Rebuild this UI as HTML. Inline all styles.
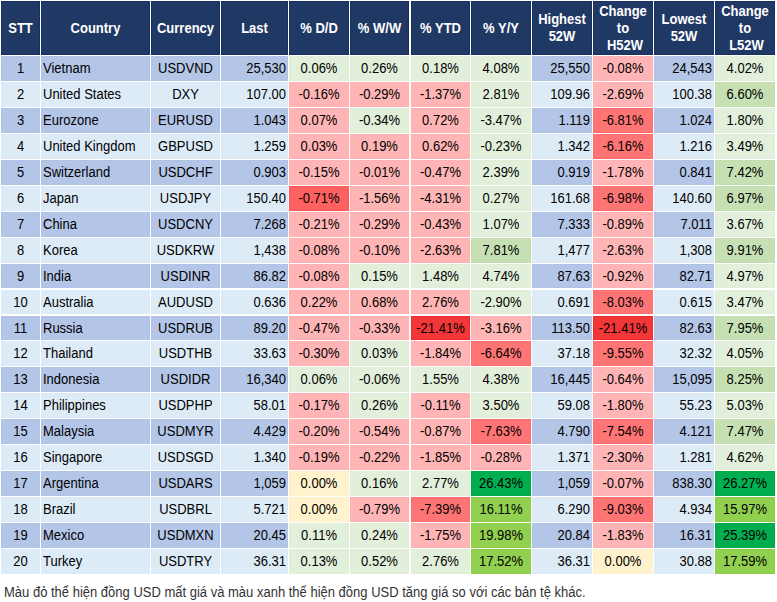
<!DOCTYPE html>
<html><head><meta charset="utf-8"><title>USD</title>
<style>
html,body{margin:0;padding:0;background:#fff;}
body{width:777px;height:602px;position:relative;overflow:hidden;
 font-family:"Liberation Sans",Arial,sans-serif;font-size:13px;color:#000;}
.c{position:absolute;box-sizing:border-box;white-space:nowrap;line-height:25px;}
.c span{display:inline-block;transform:scaleY(1.075);transform-origin:50% 17px;}
.h{position:absolute;box-sizing:border-box;background:#203864;color:#fff;font-weight:bold;
 display:flex;flex-direction:column;align-items:stretch;justify-content:center;text-align:center;line-height:17px;}
.hl{height:17px;white-space:nowrap;}
.hl span{display:inline-block;position:relative;transform:scaleY(1.075);transform-origin:50% 13px;}
.l{text-align:left;padding-left:2px;}
.m{text-align:center;}
.r{text-align:right;padding-right:2px;}
.note{position:absolute;left:4px;top:584px;font-size:13px;color:#333;white-space:nowrap;line-height:17px;}
.note span{display:inline-block;transform:scaleY(1.075);transform-origin:0 13px;}
</style></head><body>

<div class="h" style="left:1px;top:1px;width:39px;height:54px;box-shadow:inset 0 0 0 1px #17305E"><div class="hl"><span>STT</span></div></div>
<div class="h" style="left:41px;top:1px;width:109px;height:54px;box-shadow:inset 0 0 0 1px #17305E"><div class="hl"><span>Country</span></div></div>
<div class="h" style="left:151px;top:1px;width:69px;height:54px;box-shadow:inset 0 0 0 1px #17305E"><div class="hl"><span>Currency</span></div></div>
<div class="h" style="left:221px;top:1px;width:67px;height:54px;box-shadow:inset 0 0 0 1px #17305E"><div class="hl"><span>Last</span></div></div>
<div class="h" style="left:289px;top:1px;width:60px;height:54px;box-shadow:inset 0 0 0 1px #17305E"><div class="hl"><span>% D/D</span></div></div>
<div class="h" style="left:350px;top:1px;width:59px;height:54px;box-shadow:inset 0 0 0 1px #17305E"><div class="hl"><span>% W/W</span></div></div>
<div class="h" style="left:411px;top:1px;width:59px;height:54px;box-shadow:inset 0 0 0 1px #17305E"><div class="hl"><span>% YTD</span></div></div>
<div class="h" style="left:471px;top:1px;width:60px;height:54px;box-shadow:inset 0 0 0 1px #17305E"><div class="hl"><span>% Y/Y</span></div></div>
<div class="h" style="left:532px;top:1px;width:60px;height:54px;box-shadow:inset 0 0 0 1px #17305E"><div class="hl"><span>Highest</span></div><div class="hl"><span>52W</span></div></div>
<div class="h" style="left:593px;top:1px;width:60px;height:54px;box-shadow:inset 0 0 0 1px #17305E"><div class="hl"><span>Change</span></div><div class="hl"><span>to</span></div><div class="hl"><span style="left:2.0px">H52W</span></div></div>
<div class="h" style="left:654px;top:1px;width:60px;height:54px;box-shadow:inset 0 0 0 1px #17305E"><div class="hl"><span>Lowest</span></div><div class="hl"><span>52W</span></div></div>
<div class="h" style="left:715px;top:1px;width:60px;height:54px;box-shadow:inset 0 0 0 1px #17305E"><div class="hl"><span>Change</span></div><div class="hl"><span>to</span></div><div class="hl"><span style="left:1.5px">L52W</span></div></div>
<div class="c m" style="left:1px;top:56px;width:39px;height:25px;background:#B4C6E7;box-shadow:inset 0 0 0 1px #AFC2E5"><span>1</span></div>
<div class="c l" style="left:41px;top:56px;width:109px;height:25px;background:#B4C6E7;box-shadow:inset 0 0 0 1px #AFC2E5"><span>Vietnam</span></div>
<div class="c m" style="left:151px;top:56px;width:69px;height:25px;background:#B4C6E7;box-shadow:inset 0 0 0 1px #AFC2E5"><span>USDVND</span></div>
<div class="c r" style="left:221px;top:56px;width:67px;height:25px;background:#B4C6E7;box-shadow:inset 0 0 0 1px #AFC2E5"><span>25,530</span></div>
<div class="c m" style="left:289px;top:56px;width:60px;height:25px;background:#E2EFDA;box-shadow:inset 0 0 0 1px #E0EED7"><span>0.06%</span></div>
<div class="c m" style="left:350px;top:56px;width:59px;height:25px;background:#E2EFDA;box-shadow:inset 0 0 0 1px #E0EED7"><span>0.26%</span></div>
<div class="c m" style="left:411px;top:56px;width:59px;height:25px;background:#E2EFDA;box-shadow:inset 0 0 0 1px #E0EED7"><span>0.18%</span></div>
<div class="c m" style="left:471px;top:56px;width:60px;height:25px;background:#E2EFDA;box-shadow:inset 0 0 0 1px #E0EED7"><span>4.08%</span></div>
<div class="c r" style="left:532px;top:56px;width:60px;height:25px;background:#B4C6E7;box-shadow:inset 0 0 0 1px #AFC2E5"><span>25,550</span></div>
<div class="c m" style="left:593px;top:56px;width:60px;height:25px;background:#FFB5B5;box-shadow:inset 0 0 0 1px #FFB0B0"><span>-0.08%</span></div>
<div class="c r" style="left:654px;top:56px;width:60px;height:25px;background:#B4C6E7;box-shadow:inset 0 0 0 1px #AFC2E5"><span>24,543</span></div>
<div class="c m" style="left:715px;top:56px;width:60px;height:25px;background:#E2EFDA;box-shadow:inset 0 0 0 1px #E0EED7"><span>4.02%</span></div>
<div class="c m" style="left:1px;top:82px;width:39px;height:25px;background:#DDEBF7;box-shadow:inset 0 0 0 1px #DBEAF6"><span>2</span></div>
<div class="c l" style="left:41px;top:82px;width:109px;height:25px;background:#DDEBF7;box-shadow:inset 0 0 0 1px #DBEAF6"><span>United States</span></div>
<div class="c m" style="left:151px;top:82px;width:69px;height:25px;background:#DDEBF7;box-shadow:inset 0 0 0 1px #DBEAF6"><span>DXY</span></div>
<div class="c r" style="left:221px;top:82px;width:67px;height:25px;background:#DDEBF7;box-shadow:inset 0 0 0 1px #DBEAF6"><span>107.00</span></div>
<div class="c m" style="left:289px;top:82px;width:60px;height:25px;background:#FFB5B5;box-shadow:inset 0 0 0 1px #FFB0B0"><span>-0.16%</span></div>
<div class="c m" style="left:350px;top:82px;width:59px;height:25px;background:#FFB5B5;box-shadow:inset 0 0 0 1px #FFB0B0"><span>-0.29%</span></div>
<div class="c m" style="left:411px;top:82px;width:59px;height:25px;background:#FFB5B5;box-shadow:inset 0 0 0 1px #FFB0B0"><span>-1.37%</span></div>
<div class="c m" style="left:471px;top:82px;width:60px;height:25px;background:#E2EFDA;box-shadow:inset 0 0 0 1px #E0EED7"><span>2.81%</span></div>
<div class="c r" style="left:532px;top:82px;width:60px;height:25px;background:#DDEBF7;box-shadow:inset 0 0 0 1px #DBEAF6"><span>109.96</span></div>
<div class="c m" style="left:593px;top:82px;width:60px;height:25px;background:#FFB5B5;box-shadow:inset 0 0 0 1px #FFB0B0"><span>-2.69%</span></div>
<div class="c r" style="left:654px;top:82px;width:60px;height:25px;background:#DDEBF7;box-shadow:inset 0 0 0 1px #DBEAF6"><span>100.38</span></div>
<div class="c m" style="left:715px;top:82px;width:60px;height:25px;background:#C6E0B4;box-shadow:inset 0 0 0 1px #C2DEAF"><span>6.60%</span></div>
<div class="c m" style="left:1px;top:108px;width:39px;height:25px;background:#B4C6E7;box-shadow:inset 0 0 0 1px #AFC2E5"><span>3</span></div>
<div class="c l" style="left:41px;top:108px;width:109px;height:25px;background:#B4C6E7;box-shadow:inset 0 0 0 1px #AFC2E5"><span>Eurozone</span></div>
<div class="c m" style="left:151px;top:108px;width:69px;height:25px;background:#B4C6E7;box-shadow:inset 0 0 0 1px #AFC2E5"><span>EURUSD</span></div>
<div class="c r" style="left:221px;top:108px;width:67px;height:25px;background:#B4C6E7;box-shadow:inset 0 0 0 1px #AFC2E5"><span>1.043</span></div>
<div class="c m" style="left:289px;top:108px;width:60px;height:25px;background:#FFB5B5;box-shadow:inset 0 0 0 1px #FFB0B0"><span>0.07%</span></div>
<div class="c m" style="left:350px;top:108px;width:59px;height:25px;background:#E2EFDA;box-shadow:inset 0 0 0 1px #E0EED7"><span>-0.34%</span></div>
<div class="c m" style="left:411px;top:108px;width:59px;height:25px;background:#FFB5B5;box-shadow:inset 0 0 0 1px #FFB0B0"><span>0.72%</span></div>
<div class="c m" style="left:471px;top:108px;width:60px;height:25px;background:#E2EFDA;box-shadow:inset 0 0 0 1px #E0EED7"><span>-3.47%</span></div>
<div class="c r" style="left:532px;top:108px;width:60px;height:25px;background:#B4C6E7;box-shadow:inset 0 0 0 1px #AFC2E5"><span>1.119</span></div>
<div class="c m" style="left:593px;top:108px;width:60px;height:25px;background:#FF7575;box-shadow:inset 0 0 0 1px #FF6B6B"><span>-6.81%</span></div>
<div class="c r" style="left:654px;top:108px;width:60px;height:25px;background:#B4C6E7;box-shadow:inset 0 0 0 1px #AFC2E5"><span>1.024</span></div>
<div class="c m" style="left:715px;top:108px;width:60px;height:25px;background:#E2EFDA;box-shadow:inset 0 0 0 1px #E0EED7"><span>1.80%</span></div>
<div class="c m" style="left:1px;top:134px;width:39px;height:25px;background:#DDEBF7;box-shadow:inset 0 0 0 1px #DBEAF6"><span>4</span></div>
<div class="c l" style="left:41px;top:134px;width:109px;height:25px;background:#DDEBF7;box-shadow:inset 0 0 0 1px #DBEAF6"><span>United Kingdom</span></div>
<div class="c m" style="left:151px;top:134px;width:69px;height:25px;background:#DDEBF7;box-shadow:inset 0 0 0 1px #DBEAF6"><span>GBPUSD</span></div>
<div class="c r" style="left:221px;top:134px;width:67px;height:25px;background:#DDEBF7;box-shadow:inset 0 0 0 1px #DBEAF6"><span>1.259</span></div>
<div class="c m" style="left:289px;top:134px;width:60px;height:25px;background:#FFB5B5;box-shadow:inset 0 0 0 1px #FFB0B0"><span>0.03%</span></div>
<div class="c m" style="left:350px;top:134px;width:59px;height:25px;background:#FFB5B5;box-shadow:inset 0 0 0 1px #FFB0B0"><span>0.19%</span></div>
<div class="c m" style="left:411px;top:134px;width:59px;height:25px;background:#FFB5B5;box-shadow:inset 0 0 0 1px #FFB0B0"><span>0.62%</span></div>
<div class="c m" style="left:471px;top:134px;width:60px;height:25px;background:#E2EFDA;box-shadow:inset 0 0 0 1px #E0EED7"><span>-0.23%</span></div>
<div class="c r" style="left:532px;top:134px;width:60px;height:25px;background:#DDEBF7;box-shadow:inset 0 0 0 1px #DBEAF6"><span>1.342</span></div>
<div class="c m" style="left:593px;top:134px;width:60px;height:25px;background:#FF7575;box-shadow:inset 0 0 0 1px #FF6B6B"><span>-6.16%</span></div>
<div class="c r" style="left:654px;top:134px;width:60px;height:25px;background:#DDEBF7;box-shadow:inset 0 0 0 1px #DBEAF6"><span>1.216</span></div>
<div class="c m" style="left:715px;top:134px;width:60px;height:25px;background:#E2EFDA;box-shadow:inset 0 0 0 1px #E0EED7"><span>3.49%</span></div>
<div class="c m" style="left:1px;top:160px;width:39px;height:25px;background:#B4C6E7;box-shadow:inset 0 0 0 1px #AFC2E5"><span>5</span></div>
<div class="c l" style="left:41px;top:160px;width:109px;height:25px;background:#B4C6E7;box-shadow:inset 0 0 0 1px #AFC2E5"><span>Switzerland</span></div>
<div class="c m" style="left:151px;top:160px;width:69px;height:25px;background:#B4C6E7;box-shadow:inset 0 0 0 1px #AFC2E5"><span>USDCHF</span></div>
<div class="c r" style="left:221px;top:160px;width:67px;height:25px;background:#B4C6E7;box-shadow:inset 0 0 0 1px #AFC2E5"><span>0.903</span></div>
<div class="c m" style="left:289px;top:160px;width:60px;height:25px;background:#FFB5B5;box-shadow:inset 0 0 0 1px #FFB0B0"><span>-0.15%</span></div>
<div class="c m" style="left:350px;top:160px;width:59px;height:25px;background:#FFB5B5;box-shadow:inset 0 0 0 1px #FFB0B0"><span>-0.01%</span></div>
<div class="c m" style="left:411px;top:160px;width:59px;height:25px;background:#FFB5B5;box-shadow:inset 0 0 0 1px #FFB0B0"><span>-0.47%</span></div>
<div class="c m" style="left:471px;top:160px;width:60px;height:25px;background:#E2EFDA;box-shadow:inset 0 0 0 1px #E0EED7"><span>2.39%</span></div>
<div class="c r" style="left:532px;top:160px;width:60px;height:25px;background:#B4C6E7;box-shadow:inset 0 0 0 1px #AFC2E5"><span>0.919</span></div>
<div class="c m" style="left:593px;top:160px;width:60px;height:25px;background:#FFB5B5;box-shadow:inset 0 0 0 1px #FFB0B0"><span>-1.78%</span></div>
<div class="c r" style="left:654px;top:160px;width:60px;height:25px;background:#B4C6E7;box-shadow:inset 0 0 0 1px #AFC2E5"><span>0.841</span></div>
<div class="c m" style="left:715px;top:160px;width:60px;height:25px;background:#C6E0B4;box-shadow:inset 0 0 0 1px #C2DEAF"><span>7.42%</span></div>
<div class="c m" style="left:1px;top:186px;width:39px;height:25px;background:#DDEBF7;box-shadow:inset 0 0 0 1px #DBEAF6"><span>6</span></div>
<div class="c l" style="left:41px;top:186px;width:109px;height:25px;background:#DDEBF7;box-shadow:inset 0 0 0 1px #DBEAF6"><span>Japan</span></div>
<div class="c m" style="left:151px;top:186px;width:69px;height:25px;background:#DDEBF7;box-shadow:inset 0 0 0 1px #DBEAF6"><span>USDJPY</span></div>
<div class="c r" style="left:221px;top:186px;width:67px;height:25px;background:#DDEBF7;box-shadow:inset 0 0 0 1px #DBEAF6"><span>150.40</span></div>
<div class="c m" style="left:289px;top:186px;width:60px;height:25px;background:#FF6161;box-shadow:inset 0 0 0 1px #FF5656"><span>-0.71%</span></div>
<div class="c m" style="left:350px;top:186px;width:59px;height:25px;background:#FFB5B5;box-shadow:inset 0 0 0 1px #FFB0B0"><span>-1.56%</span></div>
<div class="c m" style="left:411px;top:186px;width:59px;height:25px;background:#FFB5B5;box-shadow:inset 0 0 0 1px #FFB0B0"><span>-4.31%</span></div>
<div class="c m" style="left:471px;top:186px;width:60px;height:25px;background:#E2EFDA;box-shadow:inset 0 0 0 1px #E0EED7"><span>0.27%</span></div>
<div class="c r" style="left:532px;top:186px;width:60px;height:25px;background:#DDEBF7;box-shadow:inset 0 0 0 1px #DBEAF6"><span>161.68</span></div>
<div class="c m" style="left:593px;top:186px;width:60px;height:25px;background:#FF7575;box-shadow:inset 0 0 0 1px #FF6B6B"><span>-6.98%</span></div>
<div class="c r" style="left:654px;top:186px;width:60px;height:25px;background:#DDEBF7;box-shadow:inset 0 0 0 1px #DBEAF6"><span>140.60</span></div>
<div class="c m" style="left:715px;top:186px;width:60px;height:25px;background:#C6E0B4;box-shadow:inset 0 0 0 1px #C2DEAF"><span>6.97%</span></div>
<div class="c m" style="left:1px;top:212px;width:39px;height:25px;background:#B4C6E7;box-shadow:inset 0 0 0 1px #AFC2E5"><span>7</span></div>
<div class="c l" style="left:41px;top:212px;width:109px;height:25px;background:#B4C6E7;box-shadow:inset 0 0 0 1px #AFC2E5"><span>China</span></div>
<div class="c m" style="left:151px;top:212px;width:69px;height:25px;background:#B4C6E7;box-shadow:inset 0 0 0 1px #AFC2E5"><span>USDCNY</span></div>
<div class="c r" style="left:221px;top:212px;width:67px;height:25px;background:#B4C6E7;box-shadow:inset 0 0 0 1px #AFC2E5"><span>7.268</span></div>
<div class="c m" style="left:289px;top:212px;width:60px;height:25px;background:#FFB5B5;box-shadow:inset 0 0 0 1px #FFB0B0"><span>-0.21%</span></div>
<div class="c m" style="left:350px;top:212px;width:59px;height:25px;background:#FFB5B5;box-shadow:inset 0 0 0 1px #FFB0B0"><span>-0.29%</span></div>
<div class="c m" style="left:411px;top:212px;width:59px;height:25px;background:#FFB5B5;box-shadow:inset 0 0 0 1px #FFB0B0"><span>-0.43%</span></div>
<div class="c m" style="left:471px;top:212px;width:60px;height:25px;background:#E2EFDA;box-shadow:inset 0 0 0 1px #E0EED7"><span>1.07%</span></div>
<div class="c r" style="left:532px;top:212px;width:60px;height:25px;background:#B4C6E7;box-shadow:inset 0 0 0 1px #AFC2E5"><span>7.333</span></div>
<div class="c m" style="left:593px;top:212px;width:60px;height:25px;background:#FFB5B5;box-shadow:inset 0 0 0 1px #FFB0B0"><span>-0.89%</span></div>
<div class="c r" style="left:654px;top:212px;width:60px;height:25px;background:#B4C6E7;box-shadow:inset 0 0 0 1px #AFC2E5"><span>7.011</span></div>
<div class="c m" style="left:715px;top:212px;width:60px;height:25px;background:#E2EFDA;box-shadow:inset 0 0 0 1px #E0EED7"><span>3.67%</span></div>
<div class="c m" style="left:1px;top:238px;width:39px;height:25px;background:#DDEBF7;box-shadow:inset 0 0 0 1px #DBEAF6"><span>8</span></div>
<div class="c l" style="left:41px;top:238px;width:109px;height:25px;background:#DDEBF7;box-shadow:inset 0 0 0 1px #DBEAF6"><span>Korea</span></div>
<div class="c m" style="left:151px;top:238px;width:69px;height:25px;background:#DDEBF7;box-shadow:inset 0 0 0 1px #DBEAF6"><span>USDKRW</span></div>
<div class="c r" style="left:221px;top:238px;width:67px;height:25px;background:#DDEBF7;box-shadow:inset 0 0 0 1px #DBEAF6"><span>1,438</span></div>
<div class="c m" style="left:289px;top:238px;width:60px;height:25px;background:#FFB5B5;box-shadow:inset 0 0 0 1px #FFB0B0"><span>-0.08%</span></div>
<div class="c m" style="left:350px;top:238px;width:59px;height:25px;background:#FFB5B5;box-shadow:inset 0 0 0 1px #FFB0B0"><span>-0.10%</span></div>
<div class="c m" style="left:411px;top:238px;width:59px;height:25px;background:#FFB5B5;box-shadow:inset 0 0 0 1px #FFB0B0"><span>-2.63%</span></div>
<div class="c m" style="left:471px;top:238px;width:60px;height:25px;background:#C6E0B4;box-shadow:inset 0 0 0 1px #C2DEAF"><span>7.81%</span></div>
<div class="c r" style="left:532px;top:238px;width:60px;height:25px;background:#DDEBF7;box-shadow:inset 0 0 0 1px #DBEAF6"><span>1,477</span></div>
<div class="c m" style="left:593px;top:238px;width:60px;height:25px;background:#FFB5B5;box-shadow:inset 0 0 0 1px #FFB0B0"><span>-2.63%</span></div>
<div class="c r" style="left:654px;top:238px;width:60px;height:25px;background:#DDEBF7;box-shadow:inset 0 0 0 1px #DBEAF6"><span>1,308</span></div>
<div class="c m" style="left:715px;top:238px;width:60px;height:25px;background:#C6E0B4;box-shadow:inset 0 0 0 1px #C2DEAF"><span>9.91%</span></div>
<div class="c m" style="left:1px;top:264px;width:39px;height:24px;background:#B4C6E7;box-shadow:inset 0 0 0 1px #AFC2E5"><span>9</span></div>
<div class="c l" style="left:41px;top:264px;width:109px;height:24px;background:#B4C6E7;box-shadow:inset 0 0 0 1px #AFC2E5"><span>India</span></div>
<div class="c m" style="left:151px;top:264px;width:69px;height:24px;background:#B4C6E7;box-shadow:inset 0 0 0 1px #AFC2E5"><span>USDINR</span></div>
<div class="c r" style="left:221px;top:264px;width:67px;height:24px;background:#B4C6E7;box-shadow:inset 0 0 0 1px #AFC2E5"><span>86.82</span></div>
<div class="c m" style="left:289px;top:264px;width:60px;height:24px;background:#FFB5B5;box-shadow:inset 0 0 0 1px #FFB0B0"><span>-0.08%</span></div>
<div class="c m" style="left:350px;top:264px;width:59px;height:24px;background:#E2EFDA;box-shadow:inset 0 0 0 1px #E0EED7"><span>0.15%</span></div>
<div class="c m" style="left:411px;top:264px;width:59px;height:24px;background:#E2EFDA;box-shadow:inset 0 0 0 1px #E0EED7"><span>1.48%</span></div>
<div class="c m" style="left:471px;top:264px;width:60px;height:24px;background:#E2EFDA;box-shadow:inset 0 0 0 1px #E0EED7"><span>4.74%</span></div>
<div class="c r" style="left:532px;top:264px;width:60px;height:24px;background:#B4C6E7;box-shadow:inset 0 0 0 1px #AFC2E5"><span>87.63</span></div>
<div class="c m" style="left:593px;top:264px;width:60px;height:24px;background:#FFB5B5;box-shadow:inset 0 0 0 1px #FFB0B0"><span>-0.92%</span></div>
<div class="c r" style="left:654px;top:264px;width:60px;height:24px;background:#B4C6E7;box-shadow:inset 0 0 0 1px #AFC2E5"><span>82.71</span></div>
<div class="c m" style="left:715px;top:264px;width:60px;height:24px;background:#E2EFDA;box-shadow:inset 0 0 0 1px #E0EED7"><span>4.97%</span></div>
<div class="c m" style="left:1px;top:290px;width:39px;height:24px;background:#DDEBF7;box-shadow:inset 0 0 0 1px #DBEAF6"><span>10</span></div>
<div class="c l" style="left:41px;top:290px;width:109px;height:24px;background:#DDEBF7;box-shadow:inset 0 0 0 1px #DBEAF6"><span>Australia</span></div>
<div class="c m" style="left:151px;top:290px;width:69px;height:24px;background:#DDEBF7;box-shadow:inset 0 0 0 1px #DBEAF6"><span>AUDUSD</span></div>
<div class="c r" style="left:221px;top:290px;width:67px;height:24px;background:#DDEBF7;box-shadow:inset 0 0 0 1px #DBEAF6"><span>0.636</span></div>
<div class="c m" style="left:289px;top:290px;width:60px;height:24px;background:#FFB5B5;box-shadow:inset 0 0 0 1px #FFB0B0"><span>0.22%</span></div>
<div class="c m" style="left:350px;top:290px;width:59px;height:24px;background:#FFB5B5;box-shadow:inset 0 0 0 1px #FFB0B0"><span>0.68%</span></div>
<div class="c m" style="left:411px;top:290px;width:59px;height:24px;background:#FFB5B5;box-shadow:inset 0 0 0 1px #FFB0B0"><span>2.76%</span></div>
<div class="c m" style="left:471px;top:290px;width:60px;height:24px;background:#E2EFDA;box-shadow:inset 0 0 0 1px #E0EED7"><span>-2.90%</span></div>
<div class="c r" style="left:532px;top:290px;width:60px;height:24px;background:#DDEBF7;box-shadow:inset 0 0 0 1px #DBEAF6"><span>0.691</span></div>
<div class="c m" style="left:593px;top:290px;width:60px;height:24px;background:#FF7575;box-shadow:inset 0 0 0 1px #FF6B6B"><span>-8.03%</span></div>
<div class="c r" style="left:654px;top:290px;width:60px;height:24px;background:#DDEBF7;box-shadow:inset 0 0 0 1px #DBEAF6"><span>0.615</span></div>
<div class="c m" style="left:715px;top:290px;width:60px;height:24px;background:#E2EFDA;box-shadow:inset 0 0 0 1px #E0EED7"><span>3.47%</span></div>
<div class="c m" style="left:1px;top:316px;width:39px;height:24px;background:#B4C6E7;box-shadow:inset 0 0 0 1px #AFC2E5"><span>11</span></div>
<div class="c l" style="left:41px;top:316px;width:109px;height:24px;background:#B4C6E7;box-shadow:inset 0 0 0 1px #AFC2E5"><span>Russia</span></div>
<div class="c m" style="left:151px;top:316px;width:69px;height:24px;background:#B4C6E7;box-shadow:inset 0 0 0 1px #AFC2E5"><span>USDRUB</span></div>
<div class="c r" style="left:221px;top:316px;width:67px;height:24px;background:#B4C6E7;box-shadow:inset 0 0 0 1px #AFC2E5"><span>89.20</span></div>
<div class="c m" style="left:289px;top:316px;width:60px;height:24px;background:#FFB5B5;box-shadow:inset 0 0 0 1px #FFB0B0"><span>-0.47%</span></div>
<div class="c m" style="left:350px;top:316px;width:59px;height:24px;background:#FFB5B5;box-shadow:inset 0 0 0 1px #FFB0B0"><span>-0.33%</span></div>
<div class="c m" style="left:411px;top:316px;width:59px;height:24px;background:#F33739;box-shadow:inset 0 0 0 1px #F2292B"><span>-21.41%</span></div>
<div class="c m" style="left:471px;top:316px;width:60px;height:24px;background:#FFB5B5;box-shadow:inset 0 0 0 1px #FFB0B0"><span>-3.16%</span></div>
<div class="c r" style="left:532px;top:316px;width:60px;height:24px;background:#B4C6E7;box-shadow:inset 0 0 0 1px #AFC2E5"><span>113.50</span></div>
<div class="c m" style="left:593px;top:316px;width:60px;height:24px;background:#F33739;box-shadow:inset 0 0 0 1px #F2292B"><span>-21.41%</span></div>
<div class="c r" style="left:654px;top:316px;width:60px;height:24px;background:#B4C6E7;box-shadow:inset 0 0 0 1px #AFC2E5"><span>82.63</span></div>
<div class="c m" style="left:715px;top:316px;width:60px;height:24px;background:#C6E0B4;box-shadow:inset 0 0 0 1px #C2DEAF"><span>7.95%</span></div>
<div class="c m" style="left:1px;top:341px;width:39px;height:25px;background:#DDEBF7;box-shadow:inset 0 0 0 1px #DBEAF6"><span>12</span></div>
<div class="c l" style="left:41px;top:341px;width:109px;height:25px;background:#DDEBF7;box-shadow:inset 0 0 0 1px #DBEAF6"><span>Thailand</span></div>
<div class="c m" style="left:151px;top:341px;width:69px;height:25px;background:#DDEBF7;box-shadow:inset 0 0 0 1px #DBEAF6"><span>USDTHB</span></div>
<div class="c r" style="left:221px;top:341px;width:67px;height:25px;background:#DDEBF7;box-shadow:inset 0 0 0 1px #DBEAF6"><span>33.63</span></div>
<div class="c m" style="left:289px;top:341px;width:60px;height:25px;background:#FFB5B5;box-shadow:inset 0 0 0 1px #FFB0B0"><span>-0.30%</span></div>
<div class="c m" style="left:350px;top:341px;width:59px;height:25px;background:#E2EFDA;box-shadow:inset 0 0 0 1px #E0EED7"><span>0.03%</span></div>
<div class="c m" style="left:411px;top:341px;width:59px;height:25px;background:#FFB5B5;box-shadow:inset 0 0 0 1px #FFB0B0"><span>-1.84%</span></div>
<div class="c m" style="left:471px;top:341px;width:60px;height:25px;background:#FF7575;box-shadow:inset 0 0 0 1px #FF6B6B"><span>-6.64%</span></div>
<div class="c r" style="left:532px;top:341px;width:60px;height:25px;background:#DDEBF7;box-shadow:inset 0 0 0 1px #DBEAF6"><span>37.18</span></div>
<div class="c m" style="left:593px;top:341px;width:60px;height:25px;background:#FF7575;box-shadow:inset 0 0 0 1px #FF6B6B"><span>-9.55%</span></div>
<div class="c r" style="left:654px;top:341px;width:60px;height:25px;background:#DDEBF7;box-shadow:inset 0 0 0 1px #DBEAF6"><span>32.32</span></div>
<div class="c m" style="left:715px;top:341px;width:60px;height:25px;background:#E2EFDA;box-shadow:inset 0 0 0 1px #E0EED7"><span>4.05%</span></div>
<div class="c m" style="left:1px;top:367px;width:39px;height:25px;background:#B4C6E7;box-shadow:inset 0 0 0 1px #AFC2E5"><span>13</span></div>
<div class="c l" style="left:41px;top:367px;width:109px;height:25px;background:#B4C6E7;box-shadow:inset 0 0 0 1px #AFC2E5"><span>Indonesia</span></div>
<div class="c m" style="left:151px;top:367px;width:69px;height:25px;background:#B4C6E7;box-shadow:inset 0 0 0 1px #AFC2E5"><span>USDIDR</span></div>
<div class="c r" style="left:221px;top:367px;width:67px;height:25px;background:#B4C6E7;box-shadow:inset 0 0 0 1px #AFC2E5"><span>16,340</span></div>
<div class="c m" style="left:289px;top:367px;width:60px;height:25px;background:#E2EFDA;box-shadow:inset 0 0 0 1px #E0EED7"><span>0.06%</span></div>
<div class="c m" style="left:350px;top:367px;width:59px;height:25px;background:#E2EFDA;box-shadow:inset 0 0 0 1px #E0EED7"><span>-0.06%</span></div>
<div class="c m" style="left:411px;top:367px;width:59px;height:25px;background:#E2EFDA;box-shadow:inset 0 0 0 1px #E0EED7"><span>1.55%</span></div>
<div class="c m" style="left:471px;top:367px;width:60px;height:25px;background:#E2EFDA;box-shadow:inset 0 0 0 1px #E0EED7"><span>4.38%</span></div>
<div class="c r" style="left:532px;top:367px;width:60px;height:25px;background:#B4C6E7;box-shadow:inset 0 0 0 1px #AFC2E5"><span>16,445</span></div>
<div class="c m" style="left:593px;top:367px;width:60px;height:25px;background:#FFB5B5;box-shadow:inset 0 0 0 1px #FFB0B0"><span>-0.64%</span></div>
<div class="c r" style="left:654px;top:367px;width:60px;height:25px;background:#B4C6E7;box-shadow:inset 0 0 0 1px #AFC2E5"><span>15,095</span></div>
<div class="c m" style="left:715px;top:367px;width:60px;height:25px;background:#C6E0B4;box-shadow:inset 0 0 0 1px #C2DEAF"><span>8.25%</span></div>
<div class="c m" style="left:1px;top:393px;width:39px;height:25px;background:#DDEBF7;box-shadow:inset 0 0 0 1px #DBEAF6"><span>14</span></div>
<div class="c l" style="left:41px;top:393px;width:109px;height:25px;background:#DDEBF7;box-shadow:inset 0 0 0 1px #DBEAF6"><span>Philippines</span></div>
<div class="c m" style="left:151px;top:393px;width:69px;height:25px;background:#DDEBF7;box-shadow:inset 0 0 0 1px #DBEAF6"><span>USDPHP</span></div>
<div class="c r" style="left:221px;top:393px;width:67px;height:25px;background:#DDEBF7;box-shadow:inset 0 0 0 1px #DBEAF6"><span>58.01</span></div>
<div class="c m" style="left:289px;top:393px;width:60px;height:25px;background:#FFB5B5;box-shadow:inset 0 0 0 1px #FFB0B0"><span>-0.17%</span></div>
<div class="c m" style="left:350px;top:393px;width:59px;height:25px;background:#E2EFDA;box-shadow:inset 0 0 0 1px #E0EED7"><span>0.26%</span></div>
<div class="c m" style="left:411px;top:393px;width:59px;height:25px;background:#FFB5B5;box-shadow:inset 0 0 0 1px #FFB0B0"><span>-0.11%</span></div>
<div class="c m" style="left:471px;top:393px;width:60px;height:25px;background:#E2EFDA;box-shadow:inset 0 0 0 1px #E0EED7"><span>3.50%</span></div>
<div class="c r" style="left:532px;top:393px;width:60px;height:25px;background:#DDEBF7;box-shadow:inset 0 0 0 1px #DBEAF6"><span>59.08</span></div>
<div class="c m" style="left:593px;top:393px;width:60px;height:25px;background:#FFB5B5;box-shadow:inset 0 0 0 1px #FFB0B0"><span>-1.80%</span></div>
<div class="c r" style="left:654px;top:393px;width:60px;height:25px;background:#DDEBF7;box-shadow:inset 0 0 0 1px #DBEAF6"><span>55.23</span></div>
<div class="c m" style="left:715px;top:393px;width:60px;height:25px;background:#E2EFDA;box-shadow:inset 0 0 0 1px #E0EED7"><span>5.03%</span></div>
<div class="c m" style="left:1px;top:419px;width:39px;height:25px;background:#B4C6E7;box-shadow:inset 0 0 0 1px #AFC2E5"><span>15</span></div>
<div class="c l" style="left:41px;top:419px;width:109px;height:25px;background:#B4C6E7;box-shadow:inset 0 0 0 1px #AFC2E5"><span>Malaysia</span></div>
<div class="c m" style="left:151px;top:419px;width:69px;height:25px;background:#B4C6E7;box-shadow:inset 0 0 0 1px #AFC2E5"><span>USDMYR</span></div>
<div class="c r" style="left:221px;top:419px;width:67px;height:25px;background:#B4C6E7;box-shadow:inset 0 0 0 1px #AFC2E5"><span>4.429</span></div>
<div class="c m" style="left:289px;top:419px;width:60px;height:25px;background:#FFB5B5;box-shadow:inset 0 0 0 1px #FFB0B0"><span>-0.20%</span></div>
<div class="c m" style="left:350px;top:419px;width:59px;height:25px;background:#FFB5B5;box-shadow:inset 0 0 0 1px #FFB0B0"><span>-0.54%</span></div>
<div class="c m" style="left:411px;top:419px;width:59px;height:25px;background:#FFB5B5;box-shadow:inset 0 0 0 1px #FFB0B0"><span>-0.87%</span></div>
<div class="c m" style="left:471px;top:419px;width:60px;height:25px;background:#FF7575;box-shadow:inset 0 0 0 1px #FF6B6B"><span>-7.63%</span></div>
<div class="c r" style="left:532px;top:419px;width:60px;height:25px;background:#B4C6E7;box-shadow:inset 0 0 0 1px #AFC2E5"><span>4.790</span></div>
<div class="c m" style="left:593px;top:419px;width:60px;height:25px;background:#FF7575;box-shadow:inset 0 0 0 1px #FF6B6B"><span>-7.54%</span></div>
<div class="c r" style="left:654px;top:419px;width:60px;height:25px;background:#B4C6E7;box-shadow:inset 0 0 0 1px #AFC2E5"><span>4.121</span></div>
<div class="c m" style="left:715px;top:419px;width:60px;height:25px;background:#C6E0B4;box-shadow:inset 0 0 0 1px #C2DEAF"><span>7.47%</span></div>
<div class="c m" style="left:1px;top:445px;width:39px;height:25px;background:#DDEBF7;box-shadow:inset 0 0 0 1px #DBEAF6"><span>16</span></div>
<div class="c l" style="left:41px;top:445px;width:109px;height:25px;background:#DDEBF7;box-shadow:inset 0 0 0 1px #DBEAF6"><span>Singapore</span></div>
<div class="c m" style="left:151px;top:445px;width:69px;height:25px;background:#DDEBF7;box-shadow:inset 0 0 0 1px #DBEAF6"><span>USDSGD</span></div>
<div class="c r" style="left:221px;top:445px;width:67px;height:25px;background:#DDEBF7;box-shadow:inset 0 0 0 1px #DBEAF6"><span>1.340</span></div>
<div class="c m" style="left:289px;top:445px;width:60px;height:25px;background:#FFB5B5;box-shadow:inset 0 0 0 1px #FFB0B0"><span>-0.19%</span></div>
<div class="c m" style="left:350px;top:445px;width:59px;height:25px;background:#FFB5B5;box-shadow:inset 0 0 0 1px #FFB0B0"><span>-0.22%</span></div>
<div class="c m" style="left:411px;top:445px;width:59px;height:25px;background:#FFB5B5;box-shadow:inset 0 0 0 1px #FFB0B0"><span>-1.85%</span></div>
<div class="c m" style="left:471px;top:445px;width:60px;height:25px;background:#FFB5B5;box-shadow:inset 0 0 0 1px #FFB0B0"><span>-0.28%</span></div>
<div class="c r" style="left:532px;top:445px;width:60px;height:25px;background:#DDEBF7;box-shadow:inset 0 0 0 1px #DBEAF6"><span>1.371</span></div>
<div class="c m" style="left:593px;top:445px;width:60px;height:25px;background:#FFB5B5;box-shadow:inset 0 0 0 1px #FFB0B0"><span>-2.30%</span></div>
<div class="c r" style="left:654px;top:445px;width:60px;height:25px;background:#DDEBF7;box-shadow:inset 0 0 0 1px #DBEAF6"><span>1.281</span></div>
<div class="c m" style="left:715px;top:445px;width:60px;height:25px;background:#E2EFDA;box-shadow:inset 0 0 0 1px #E0EED7"><span>4.62%</span></div>
<div class="c m" style="left:1px;top:471px;width:39px;height:25px;background:#B4C6E7;box-shadow:inset 0 0 0 1px #AFC2E5"><span>17</span></div>
<div class="c l" style="left:41px;top:471px;width:109px;height:25px;background:#B4C6E7;box-shadow:inset 0 0 0 1px #AFC2E5"><span>Argentina</span></div>
<div class="c m" style="left:151px;top:471px;width:69px;height:25px;background:#B4C6E7;box-shadow:inset 0 0 0 1px #AFC2E5"><span>USDARS</span></div>
<div class="c r" style="left:221px;top:471px;width:67px;height:25px;background:#B4C6E7;box-shadow:inset 0 0 0 1px #AFC2E5"><span>1,059</span></div>
<div class="c m" style="left:289px;top:471px;width:60px;height:25px;background:#FFF2CC;box-shadow:inset 0 0 0 1px #FFF1C8"><span>0.00%</span></div>
<div class="c m" style="left:350px;top:471px;width:59px;height:25px;background:#E2EFDA;box-shadow:inset 0 0 0 1px #E0EED7"><span>0.16%</span></div>
<div class="c m" style="left:411px;top:471px;width:59px;height:25px;background:#E2EFDA;box-shadow:inset 0 0 0 1px #E0EED7"><span>2.77%</span></div>
<div class="c m" style="left:471px;top:471px;width:60px;height:25px;background:#00AE4F;box-shadow:inset 0 0 0 1px #00A843"><span>26.43%</span></div>
<div class="c r" style="left:532px;top:471px;width:60px;height:25px;background:#B4C6E7;box-shadow:inset 0 0 0 1px #AFC2E5"><span>1,059</span></div>
<div class="c m" style="left:593px;top:471px;width:60px;height:25px;background:#FFB5B5;box-shadow:inset 0 0 0 1px #FFB0B0"><span>-0.07%</span></div>
<div class="c r" style="left:654px;top:471px;width:60px;height:25px;background:#B4C6E7;box-shadow:inset 0 0 0 1px #AFC2E5"><span>838.30</span></div>
<div class="c m" style="left:715px;top:471px;width:60px;height:25px;background:#00AE4F;box-shadow:inset 0 0 0 1px #00A843"><span>26.27%</span></div>
<div class="c m" style="left:1px;top:497px;width:39px;height:25px;background:#DDEBF7;box-shadow:inset 0 0 0 1px #DBEAF6"><span>18</span></div>
<div class="c l" style="left:41px;top:497px;width:109px;height:25px;background:#DDEBF7;box-shadow:inset 0 0 0 1px #DBEAF6"><span>Brazil</span></div>
<div class="c m" style="left:151px;top:497px;width:69px;height:25px;background:#DDEBF7;box-shadow:inset 0 0 0 1px #DBEAF6"><span>USDBRL</span></div>
<div class="c r" style="left:221px;top:497px;width:67px;height:25px;background:#DDEBF7;box-shadow:inset 0 0 0 1px #DBEAF6"><span>5.721</span></div>
<div class="c m" style="left:289px;top:497px;width:60px;height:25px;background:#FFF2CC;box-shadow:inset 0 0 0 1px #FFF1C8"><span>0.00%</span></div>
<div class="c m" style="left:350px;top:497px;width:59px;height:25px;background:#FFB5B5;box-shadow:inset 0 0 0 1px #FFB0B0"><span>-0.79%</span></div>
<div class="c m" style="left:411px;top:497px;width:59px;height:25px;background:#FF7575;box-shadow:inset 0 0 0 1px #FF6B6B"><span>-7.39%</span></div>
<div class="c m" style="left:471px;top:497px;width:60px;height:25px;background:#92D050;box-shadow:inset 0 0 0 1px #8ACD44"><span>16.11%</span></div>
<div class="c r" style="left:532px;top:497px;width:60px;height:25px;background:#DDEBF7;box-shadow:inset 0 0 0 1px #DBEAF6"><span>6.290</span></div>
<div class="c m" style="left:593px;top:497px;width:60px;height:25px;background:#FF7575;box-shadow:inset 0 0 0 1px #FF6B6B"><span>-9.03%</span></div>
<div class="c r" style="left:654px;top:497px;width:60px;height:25px;background:#DDEBF7;box-shadow:inset 0 0 0 1px #DBEAF6"><span>4.934</span></div>
<div class="c m" style="left:715px;top:497px;width:60px;height:25px;background:#92D050;box-shadow:inset 0 0 0 1px #8ACD44"><span>15.97%</span></div>
<div class="c m" style="left:1px;top:523px;width:39px;height:25px;background:#B4C6E7;box-shadow:inset 0 0 0 1px #AFC2E5"><span>19</span></div>
<div class="c l" style="left:41px;top:523px;width:109px;height:25px;background:#B4C6E7;box-shadow:inset 0 0 0 1px #AFC2E5"><span>Mexico</span></div>
<div class="c m" style="left:151px;top:523px;width:69px;height:25px;background:#B4C6E7;box-shadow:inset 0 0 0 1px #AFC2E5"><span>USDMXN</span></div>
<div class="c r" style="left:221px;top:523px;width:67px;height:25px;background:#B4C6E7;box-shadow:inset 0 0 0 1px #AFC2E5"><span>20.45</span></div>
<div class="c m" style="left:289px;top:523px;width:60px;height:25px;background:#E2EFDA;box-shadow:inset 0 0 0 1px #E0EED7"><span>0.11%</span></div>
<div class="c m" style="left:350px;top:523px;width:59px;height:25px;background:#E2EFDA;box-shadow:inset 0 0 0 1px #E0EED7"><span>0.24%</span></div>
<div class="c m" style="left:411px;top:523px;width:59px;height:25px;background:#FFB5B5;box-shadow:inset 0 0 0 1px #FFB0B0"><span>-1.75%</span></div>
<div class="c m" style="left:471px;top:523px;width:60px;height:25px;background:#92D050;box-shadow:inset 0 0 0 1px #8ACD44"><span>19.98%</span></div>
<div class="c r" style="left:532px;top:523px;width:60px;height:25px;background:#B4C6E7;box-shadow:inset 0 0 0 1px #AFC2E5"><span>20.84</span></div>
<div class="c m" style="left:593px;top:523px;width:60px;height:25px;background:#FFB5B5;box-shadow:inset 0 0 0 1px #FFB0B0"><span>-1.83%</span></div>
<div class="c r" style="left:654px;top:523px;width:60px;height:25px;background:#B4C6E7;box-shadow:inset 0 0 0 1px #AFC2E5"><span>16.31</span></div>
<div class="c m" style="left:715px;top:523px;width:60px;height:25px;background:#00AE4F;box-shadow:inset 0 0 0 1px #00A843"><span>25.39%</span></div>
<div class="c m" style="left:1px;top:549px;width:39px;height:25px;background:#DDEBF7;box-shadow:inset 0 0 0 1px #DBEAF6"><span>20</span></div>
<div class="c l" style="left:41px;top:549px;width:109px;height:25px;background:#DDEBF7;box-shadow:inset 0 0 0 1px #DBEAF6"><span>Turkey</span></div>
<div class="c m" style="left:151px;top:549px;width:69px;height:25px;background:#DDEBF7;box-shadow:inset 0 0 0 1px #DBEAF6"><span>USDTRY</span></div>
<div class="c r" style="left:221px;top:549px;width:67px;height:25px;background:#DDEBF7;box-shadow:inset 0 0 0 1px #DBEAF6"><span>36.31</span></div>
<div class="c m" style="left:289px;top:549px;width:60px;height:25px;background:#E2EFDA;box-shadow:inset 0 0 0 1px #E0EED7"><span>0.13%</span></div>
<div class="c m" style="left:350px;top:549px;width:59px;height:25px;background:#E2EFDA;box-shadow:inset 0 0 0 1px #E0EED7"><span>0.52%</span></div>
<div class="c m" style="left:411px;top:549px;width:59px;height:25px;background:#E2EFDA;box-shadow:inset 0 0 0 1px #E0EED7"><span>2.76%</span></div>
<div class="c m" style="left:471px;top:549px;width:60px;height:25px;background:#92D050;box-shadow:inset 0 0 0 1px #8ACD44"><span>17.52%</span></div>
<div class="c r" style="left:532px;top:549px;width:60px;height:25px;background:#DDEBF7;box-shadow:inset 0 0 0 1px #DBEAF6"><span>36.31</span></div>
<div class="c m" style="left:593px;top:549px;width:60px;height:25px;background:#FFF2CC;box-shadow:inset 0 0 0 1px #FFF1C8"><span>0.00%</span></div>
<div class="c r" style="left:654px;top:549px;width:60px;height:25px;background:#DDEBF7;box-shadow:inset 0 0 0 1px #DBEAF6"><span>30.88</span></div>
<div class="c m" style="left:715px;top:549px;width:60px;height:25px;background:#92D050;box-shadow:inset 0 0 0 1px #8ACD44"><span>17.59%</span></div>
<div class="note"><span>Màu đỏ thể hiện đồng USD mất giá và màu xanh thể hiện đồng USD tăng giá so với các bản tệ khác.</span></div>
</body></html>
